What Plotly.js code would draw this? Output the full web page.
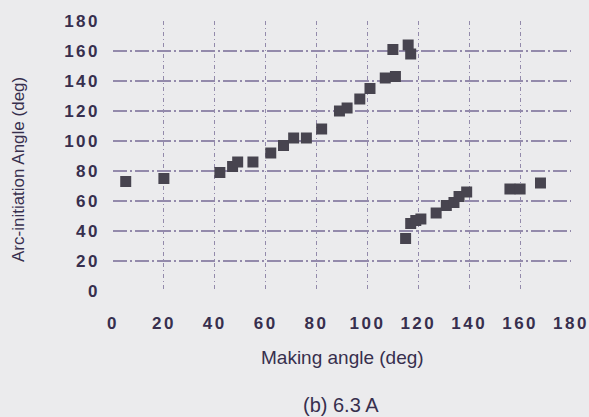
<!DOCTYPE html>
<html>
<head>
<meta charset="utf-8">
<script src="https://cdn.plot.ly/plotly-3.0.1.min.js"></script>
<style>
html, body { margin: 0; padding: 0; background: #ebebed; }
#chart { width: 589px; height: 417px; }
.xtick text, .ytick text { letter-spacing: 2.5px; }
</style>
</head>
<body>
<div id="chart"></div>
<script>
// Upper branch (making angle, arc-initiation angle), degrees
const upperMaking = [5, 20, 42, 47, 49, 55, 62, 67, 71, 76, 82, 89, 92, 97, 101, 107, 111, 110, 116, 117];
const upperArc    = [73, 75, 79, 83, 86, 86, 92, 97, 102, 102, 108, 120, 122, 128, 135, 142, 143, 161, 164, 158];
// Lower branch
const lowerMaking = [115, 117, 119, 121, 127, 131, 134, 136, 139, 156, 160, 168];
const lowerArc    = [35, 45, 47, 48, 52, 57, 59, 63, 66, 68, 68, 72];

const tickVals = [0, 20, 40, 60, 80, 100, 120, 140, 160, 180];
const tickText = ["0", "20", "40", "60", "80", "100", "120", "140", "160", "180"];

const xTitle = "Making angle (deg)";
const yTitle = "Arc-initiation Angle (deg)";
const caption = "(b) 6.3 A";

const textColor = "#372f4e";
const gridColor = "#938aab";
const markerStyle = { symbol: "square", size: 11, color: "#47444f" };

const data = [
  { x: upperMaking, y: upperArc, type: "scatter", mode: "markers", marker: markerStyle, name: "upper", showlegend: false },
  { x: lowerMaking, y: lowerArc, type: "scatter", mode: "markers", marker: markerStyle, name: "lower", showlegend: false }
];

const layout = {
  width: 589,
  height: 417,
  margin: { l: 113, r: 18, t: 21, b: 126 },
  paper_bgcolor: "#ebebed",
  plot_bgcolor: "#ebebed",
  font: { family: "Liberation Sans, Arial, sans-serif", color: textColor },
  showlegend: false,
  xaxis: {
    range: [0, 180],
    tickvals: tickVals,
    ticktext: tickText,
    showgrid: true,
    gridcolor: gridColor,
    gridwidth: 1,
    griddash: "4px,3px,1px,3px",
    zeroline: false,
    showline: false,
    ticks: "",
    ticklabelstandoff: 20,
    tickfont: { size: 17, color: textColor, weight: "bold" },
    automargin: false,
    fixedrange: true
  },
  yaxis: {
    range: [0, 180],
    tickvals: tickVals,
    ticktext: tickText,
    showgrid: true,
    gridcolor: gridColor,
    gridwidth: 1.5,
    griddash: "14px,3px,2px,3px",
    zeroline: false,
    showline: false,
    ticks: "",
    ticklabelstandoff: 12,
    tickfont: { size: 17, color: textColor, weight: "bold" },
    automargin: false,
    fixedrange: true
  },
  annotations: [
    {
      text: xTitle,
      xref: "paper", yref: "paper",
      x: (342 - 113) / 458, y: (291 - 357) / 270,
      xanchor: "center", yanchor: "middle",
      showarrow: false,
      font: { size: 19, color: textColor }
    },
    {
      text: yTitle,
      xref: "paper", yref: "paper",
      x: (18 - 113) / 458, y: (291 - 170) / 270,
      xanchor: "center", yanchor: "middle",
      textangle: -90,
      showarrow: false,
      font: { size: 17, color: textColor }
    },
    {
      text: caption,
      xref: "paper", yref: "paper",
      x: (341 - 113) / 458, y: (291 - 405) / 270,
      xanchor: "center", yanchor: "middle",
      showarrow: false,
      font: { size: 20, color: textColor }
    }
  ]
};

Plotly.newPlot("chart", data, layout, { displayModeBar: false, staticPlot: true });
</script>
</body>
</html>
